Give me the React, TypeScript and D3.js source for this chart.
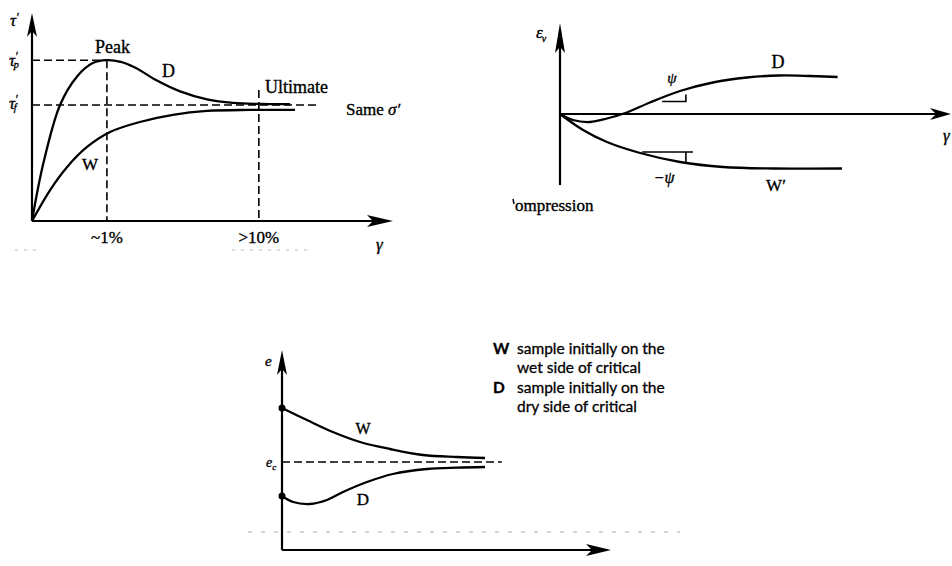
import React from "react";
import * as d3 from "d3";

// panel 1: shear stress vs shear strain (abstract units, 0..100)
const shearD: [number, number][] = [[0, 0], [3.1, 27], [7.9, 55.8], [12.7, 69.5], [17, 75.8], [21, 77.3], [25, 76.5], [29, 73.8], [35.2, 67.5], [41.7, 62.3], [49.3, 58.5], [56.6, 56.8], [64, 56.3], [72.7, 56.2]];
const shearW: [number, number][] = [[0, 0], [5.1, 14.9], [9.9, 26], [15.5, 35.6], [22, 42.8], [30.4, 47.6], [39.7, 51], [49.3, 52.9], [61.4, 53.4], [74.1, 53.4]];
const tauPeak = 77.3;
const tauUlt = 55.8;
const strainTicks = [{ label: "~1%", v: 21.1, top: tauPeak }, { label: ">10%", v: 63.9, top: 63 }];

// panel 2: volumetric strain vs shear strain
const dilD: [number, number][] = [[0, 0], [3.3, -6], [7.7, -8], [12, -4.5], [17.1, 1.5], [23, 11.5], [30.7, 23], [39.1, 31.5], [47.8, 36.5], [56, 38.5], [64, 38], [71, 37]];
const dilW: [number, number][] = [[0, 0], [5.9, -16], [12, -28], [20.5, -39], [30.7, -48], [41.7, -53], [54.5, -54.5], [72.1, -54.5]];
const psiPos = { x0: 26.1, x1: 32.2, y0: 12.5, y1: 19.5 };
const psiNeg = { x0: 21, x1: 34, xv: 32.2, y0: -38, y1: -48 };

// panel 3: void ratio vs shear strain
const voidW: [number, number][] = [[0, 71], [7.6, 65], [15.5, 59], [23.8, 54], [32.9, 50.5], [43, 47.5], [53.4, 46.5], [61.9, 46]];
const voidD: [number, number][] = [[0, 27], [3.4, 24], [8.5, 23], [13.7, 25], [18.6, 29], [25.9, 34], [33.8, 38], [44.2, 40.5], [53.4, 41.2], [61.9, 41.5]];
const voidCrit = 44;
const legendLines = [
  ["W", "sample initially on the", "wet side of critical"],
  ["D", "sample initially on the", "dry side of critical"],
];

const serif = "'Liberation Serif', 'DejaVu Serif', serif";
const sans = "Lato, 'Open Sans', sans-serif";

const upArrow = (x: number, tip: number, len: number, w: number) =>
  `M${x},${tip} L${x - w},${tip + len} L${x},${tip + len - 6} L${x + w},${tip + len} Z`;
const rightArrow = (tip: number, y: number, len: number, w: number) =>
  `M${tip},${y} L${tip - len},${y - w} L${tip - len + 6},${y} L${tip - len},${y + w} Z`;

const txt = { fontFamily: serif, fill: "#000", stroke: "#000", strokeWidth: 0.35 } as const;

const App = () => {
  const mk = (x: d3.ScaleLinear<number, number>, y: d3.ScaleLinear<number, number>) =>
    d3.line<[number, number]>().x(d => x(d[0])).y(d => y(d[1])).curve(d3.curveCatmullRom.alpha(0.5));

  // panel 1
  const x1 = d3.scaleLinear().domain([0, 100]).range([32, 387]);
  const y1 = d3.scaleLinear().domain([0, 100]).range([221, 13]);
  const line1 = mk(x1, y1);

  // panel 2
  const x2 = d3.scaleLinear().domain([0, 100]).range([560, 951]);
  const y2 = d3.scaleLinear().domain([-100, 100]).range([214, 14]);
  const line2 = mk(x2, y2);

  // panel 3
  const x3 = d3.scaleLinear().domain([0, 100]).range([282, 610]);
  const y3 = d3.scaleLinear().domain([0, 100]).range([550, 350]);
  const line3 = mk(x3, y3);

  const curve = { fill: "none", stroke: "#000", strokeWidth: 2.3 };
  const axis = { stroke: "#000", strokeWidth: 2.2 };
  const dash = { stroke: "#000", strokeWidth: 1.6, strokeDasharray: "8,4" };

  return (
    <svg width={952} height={566} style={{ position: "absolute", left: 0, top: 0, background: "#fff" }}>
      <rect width={952} height={566} fill="#fff" />

      {/* ---------- panel 1 ---------- */}
      <g>
        <line x1={x1(0)} y1={y1(0)} x2={x1(0)} y2={20} {...axis} />
        <path d={upArrow(x1(0), 13, 24, 5)} fill="#000" />
        <line x1={x1(0)} y1={y1(0)} x2={386} y2={y1(0)} {...axis} />
        <path d={rightArrow(393, y1(0), 26, 6)} fill="#000" />

        <line x1={x1(0)} x2={x1(21)} y1={y1(tauPeak)} y2={y1(tauPeak)} {...dash} />
        <line x1={x1(0)} x2={x1(80.3)} y1={y1(tauUlt)} y2={y1(tauUlt)} {...dash} />
        {strainTicks.map(t => (
          <g key={t.label}>
            <line x1={x1(t.v)} x2={x1(t.v)} y1={y1(t.top)} y2={y1(0)} {...dash} />
            <text x={x1(t.v)} y={243} textAnchor="middle" fontSize={17} {...txt}>{t.label}</text>
          </g>
        ))}

        <path d={line1(shearD) || ""} {...curve} />
        <path d={line1(shearW) || ""} {...curve} />

        <text x={10} y={26} fontSize={17} fontStyle="italic" {...txt}>τ<tspan dy={-5} fontSize={12}>′</tspan></text>
        <text x={9} y={66} fontSize={17} fontStyle="italic" {...txt}>τ<tspan dy={-6} fontSize={12}>′</tspan><tspan dx={-4} dy={8} fontSize={10}>p</tspan></text>
        <text x={9} y={109} fontSize={17} fontStyle="italic" {...txt}>τ<tspan dy={-6} fontSize={12}>′</tspan><tspan dx={-4} dy={8} fontSize={10}>f</tspan></text>

        <text x={95} y={53} fontSize={18} {...txt}>Peak</text>
        <text x={162} y={77} fontSize={18} {...txt}>D</text>
        <text x={82} y={170} fontSize={17} {...txt}>W</text>
        <text x={265} y={93} fontSize={18} {...txt}>Ultimate</text>
        <text x={346} y={115} fontSize={17} {...txt}>Same <tspan fontStyle="italic">σ′</tspan></text>
        <text x={376} y={250} fontSize={17} fontStyle="italic" {...txt}>γ</text>

        <g stroke="#bbb" strokeWidth={1} strokeDasharray="3,6">
          <line x1={15} x2={42} y1={250} y2={250} />
          <line x1={232} x2={310} y1={250} y2={250} />
        </g>
      </g>

      {/* ---------- panel 2 ---------- */}
      <g>
        <line x1={x2(0)} y1={185} x2={x2(0)} y2={30} {...axis} />
        <path d={upArrow(x2(0), 23, 30, 5)} fill="#000" />
        <line x1={x2(0)} y1={y2(0)} x2={945} y2={y2(0)} {...axis} />
        <path d={rightArrow(951, y2(0), 21, 6)} fill="#000" />

        <path d={line2(dilD) || ""} {...curve} />
        <path d={line2(dilW) || ""} {...curve} />

        <path d={`M${x2(psiPos.x0)},${y2(psiPos.y0)} H${x2(psiPos.x1)} V${y2(psiPos.y1)}`} fill="none" stroke="#000" strokeWidth={1.6} />
        <path d={`M${x2(psiNeg.x0)},${y2(psiNeg.y0)} H${x2(psiNeg.x1)} M${x2(psiNeg.xv)},${y2(psiNeg.y0)} V${y2(psiNeg.y1)}`} fill="none" stroke="#000" strokeWidth={1.6} />

        <text x={536} y={38} fontSize={17} fontStyle="italic" {...txt}>ε<tspan dx={-1} dy={4} fontSize={10}>v</tspan></text>
        <text x={672} y={83} textAnchor="middle" fontSize={15} fontStyle="italic" {...txt}>ψ</text>
        <text x={664} y={183} textAnchor="middle" fontSize={16} fontStyle="italic" {...txt}>−ψ</text>
        <text x={778} y={68} textAnchor="middle" fontSize={18} {...txt}>D</text>
        <text x={776} y={191} textAnchor="middle" fontSize={17} {...txt}>W′</text>
        <text x={515} y={211} fontSize={17} {...txt}>ompression</text>
        <line x1={513} x2={514} y1={199} y2={204} stroke="#000" strokeWidth={1.5} />
        <text x={943} y={141} fontSize={17} fontStyle="italic" {...txt}>γ</text>
      </g>

      {/* ---------- panel 3 ---------- */}
      <g>
        <line x1={x3(0)} y1={y3(0)} x2={x3(0)} y2={358} {...axis} />
        <path d={upArrow(x3(0), 350, 25, 5)} fill="#000" />
        <line x1={x3(0)} y1={y3(0)} x2={600} y2={y3(0)} {...axis} />
        <path d={rightArrow(611, y3(0), 25, 6)} fill="#000" />

        <line x1={x3(0)} x2={x3(67)} y1={y3(voidCrit)} y2={y3(voidCrit)} {...dash} />
        <path d={line3(voidW) || ""} {...curve} />
        <path d={line3(voidD) || ""} {...curve} />
        <circle cx={x3(voidW[0][0])} cy={y3(voidW[0][1])} r={3.5} fill="#000" />
        <circle cx={x3(voidD[0][0])} cy={y3(voidD[0][1])} r={3.5} fill="#000" />

        <text x={265} y={366} fontSize={15} fontStyle="italic" {...txt}>e</text>
        <text x={266} y={467} fontSize={14} fontStyle="italic" {...txt}>e<tspan dy={3} fontSize={9}>c</tspan></text>
        <text x={363} y={434} textAnchor="middle" fontSize={16} {...txt}>W</text>
        <text x={363} y={505} textAnchor="middle" fontSize={17} {...txt}>D</text>
        <text x={598} y={575} fontSize={16} fontStyle="italic" {...txt}>γ</text>

        {legendLines.map((l, i) => (
          <g key={l[0]} fontFamily={sans} fontSize={15.5} fill="#000" stroke="#000" strokeWidth={0.3}>
            <text x={493} y={354 + i * 39} fontWeight="bold">{l[0]}</text>
            <text x={517} y={354 + i * 39}>{l[1]}</text>
            <text x={517} y={373 + i * 39}>{l[2]}</text>
          </g>
        ))}

        <line x1={248} x2={680} y1={532} y2={532} stroke="#aaa" strokeWidth={1} strokeDasharray="4,9" />
      </g>
    </svg>
  );
};

export default App;
